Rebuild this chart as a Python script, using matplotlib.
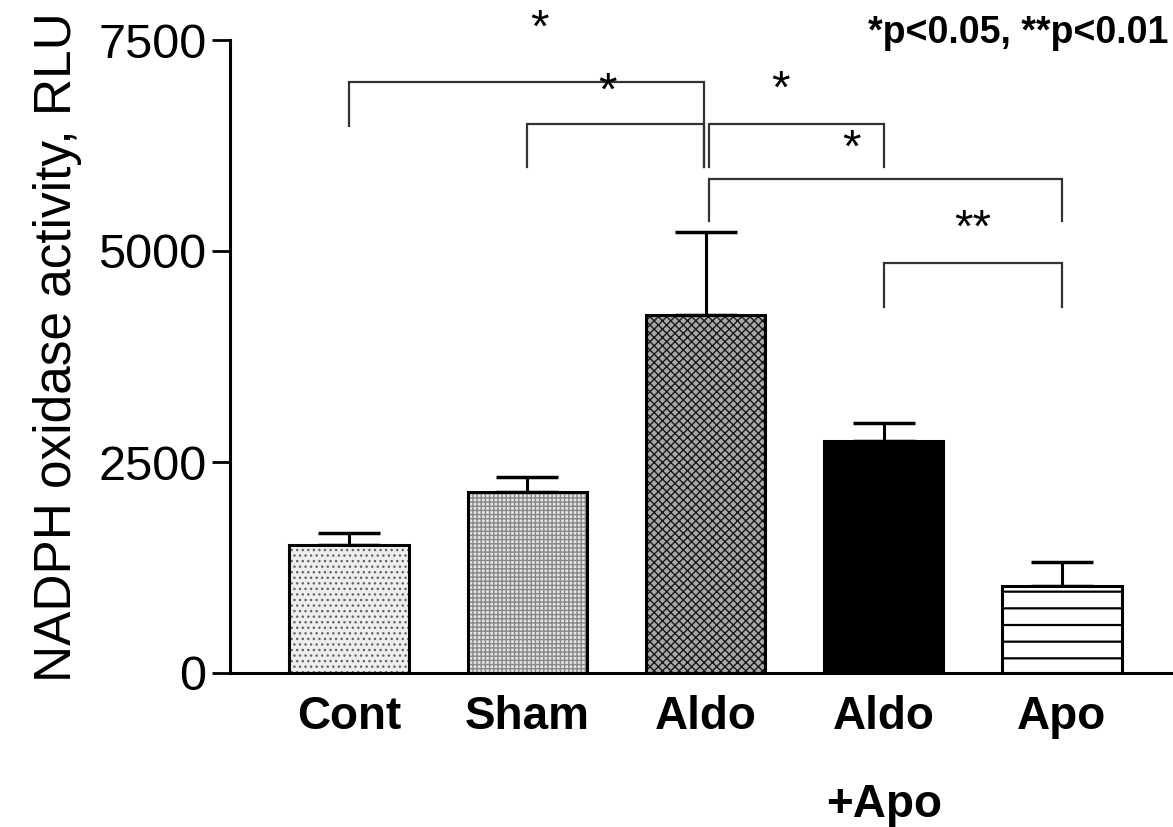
import matplotlib
matplotlib.use("Agg")
import matplotlib.pyplot as plt

# data
groups = ["Cont", "Sham", "Aldo", "Aldo\n+Apo", "Apo"]
means = [1520, 2145, 4240, 2750, 1030]
sems = [140, 180, 985, 215, 285]

# significance brackets: (left group, right group, bracket height, left leg bottom, right leg bottom)
brackets = [
    (0, 2, 7000, 6480, 6000),
    (1, 2, 6500, 6000, 6000),
    (2, 3, 6500, 6000, 6000),
    (2, 4, 5850, 5350, 5350),
    (3, 4, 4860, 4340, 4340),
]
stars = ["*", "*", "*", "*", "**"]
star_x = [1.07, 1.45, 2.42, 2.82, 3.50]
star_y = [7620, 6870, 6900, 6200, 5250]

fills = ["#eeeeee", "#e4e4e4", "#a8a8a8", "black", "white"]
hatches = ["...", "++++", "xxxx", None, "-"]
hatch_cols = ["#666666", "#888888", "#1a1a1a", "black", "black"]

plt.rcParams["font.family"] = ["Liberation Sans", "DejaVu Sans"]

fig = plt.figure(figsize=(11.73, 8.27), dpi=100)
ax = fig.add_axes([230 / 1173, 1 - 673 / 827, 1 - 230 / 1173, (673 - 40) / 827])

x = list(range(len(groups)))
w = 0.67
for i in x:
    plt.rcParams["hatch.linewidth"] = 1.6 if i == 4 else 1.0
    ax.bar(i, means[i], w, color=fills[i], hatch=hatches[i], edgecolor=hatch_cols[i],
           linewidth=0, zorder=2)
ax.bar(x, means, w, fill=False, edgecolor="black", linewidth=2.2, zorder=3)
ax.errorbar(x, means, yerr=[[0] * len(x), sems], fmt="none", ecolor="black",
            elinewidth=2.2, capsize=22, capthick=2.5, zorder=1)

for (a, b, h, la, lb) in brackets:
    xa = a + 0.02 if a == 2 else a
    xb = b - 0.01 if b == 2 else b
    ax.plot([xa, xa, xb, xb], [la, h, h, lb], color="#333333", lw=1.6,
            clip_on=False, solid_joinstyle="miter")

for s, sx, sy in zip(stars, star_x, star_y):
    ax.text(sx, sy, s, fontsize=34, ha="center", va="center", clip_on=False)

ax.set_xlim(-0.668, 4.623)
ax.set_ylim(0, 7500)
ax.set_yticks([0, 2500, 5000, 7500])
ax.tick_params(axis="y", labelsize=35, length=13, width=2, pad=4)
ax.tick_params(axis="x", length=0, pad=16)
ax.set_xticks(x)
ax.set_xticklabels(groups, fontsize=33, fontweight="bold", linespacing=2.3, va="top")
for side in ["top", "right"]:
    ax.spines[side].set_visible(False)
for side in ["left", "bottom"]:
    ax.spines[side].set_linewidth(2.2)

fig.text(58 / 1173, 1 - 347 / 827, "NADPH oxidase activity, RLU", rotation=90,
         ha="center", va="center", fontsize=37)
fig.text(868 / 1173, 1 - 33 / 827, "*p<0.05, **p<0.01", ha="left", va="center",
         fontsize=27, fontweight="bold")

fig.savefig("out.png", dpi=100)
